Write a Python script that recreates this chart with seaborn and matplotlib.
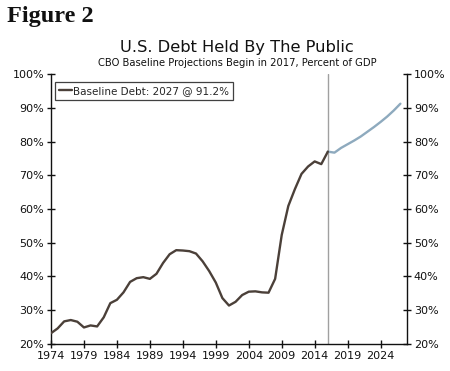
import matplotlib
matplotlib.use('Agg')
import matplotlib.pyplot as plt
import seaborn as sns
import pandas as pd

# Historical debt held by the public, % of GDP
years_hist = list(range(1974, 2017))
debt_hist = [23.2, 24.6, 26.7, 27.1, 26.6, 24.9, 25.5, 25.2, 27.9, 32.1,
             33.1, 35.3, 38.4, 39.5, 39.8, 39.3, 40.8, 44.0, 46.6, 47.8,
             47.7, 47.5, 46.8, 44.5, 41.6, 38.2, 33.6, 31.4, 32.5, 34.5,
             35.5, 35.6, 35.3, 35.2, 39.3, 52.3, 60.9, 65.9, 70.4, 72.6,
             74.1, 73.3, 77.0]

# CBO baseline projections (starting from last actual year)
years_proj = list(range(2016, 2028))
debt_proj = [77.0, 76.7, 78.1, 79.2, 80.3, 81.5, 82.9, 84.3, 85.8, 87.4, 89.2, 91.2]

x_ticks = list(range(1974, 2025, 5))
y_ticks = list(range(20, 101, 10))

hist_color = "#4b4039"
proj_color = "#8eaabe"

sns.set_style("white")
plt.rcParams['font.family'] = ['DejaVu Sans']

fig = plt.figure(figsize=(4.5, 3.71), dpi=100)
ax = fig.add_axes([0.1133, 0.0728, 0.7911, 0.7277])

hist = pd.DataFrame({"year": years_hist, "debt": debt_hist})
proj = pd.DataFrame({"year": years_proj, "debt": debt_proj})

ax.axvline(2016, color="#a0a0a0", lw=1.0, zorder=1)
sns.lineplot(data=hist, x="year", y="debt", ax=ax, color=hist_color, lw=1.7,
             label="Baseline Debt: 2027 @ 91.2%", zorder=3)
sns.lineplot(data=proj, x="year", y="debt", ax=ax, color=proj_color, lw=1.7,
             zorder=2)

ax.set_xlim(1974, 2028)
ax.set_ylim(20, 100)
ax.set_xticks(x_ticks)
ax.set_yticks(y_ticks)
ax.set_yticklabels([f"{v}%" for v in y_ticks])
ax.set_xlabel("")
ax.set_ylabel("")

for side in ["left", "right", "bottom"]:
    ax.spines[side].set_color("#111111")
    ax.spines[side].set_linewidth(1.0)
ax.spines["top"].set_visible(False)

ax.tick_params(axis="both", direction="inout", length=6, width=1,
               labelsize=8, colors="#111111", pad=2)
ax.tick_params(axis="y", right=True, labelright=True, left=True)
ax.tick_params(axis="x", bottom=True)

leg = ax.legend(loc="upper left", bbox_to_anchor=(0.0, 0.985), fontsize=7.5,
                frameon=True, fancybox=False, handlelength=1.3,
                handletextpad=0.1, borderpad=0.35, borderaxespad=0.4)
leg.get_frame().set_edgecolor("#111111")
leg.get_frame().set_linewidth(0.9)

fig.text(0.016, 0.985, "Figure 2", family="Liberation Serif", weight="bold",
         fontsize=17.5, va="top", ha="left", color="#111111")
fig.text(0.527, 0.872, "U.S. Debt Held By The Public", fontsize=11.7,
         ha="center", va="center", color="#111111")
fig.text(0.527, 0.830, "CBO Baseline Projections Begin in 2017, Percent of GDP",
         fontsize=7.2, ha="center", va="center", color="#111111")

fig.savefig("out.png", dpi=100)
plt.close(fig)
